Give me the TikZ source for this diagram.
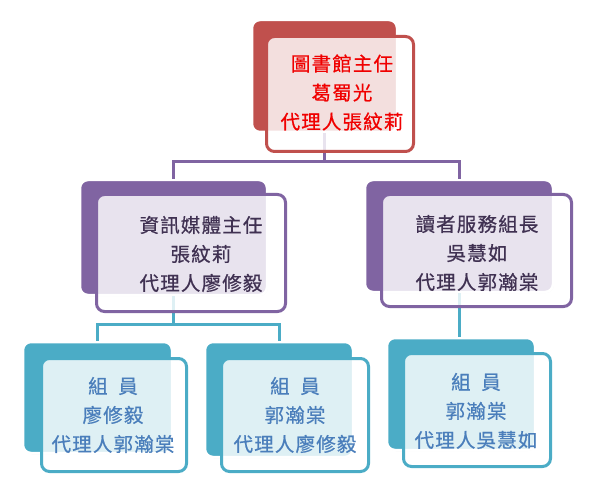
\documentclass[tikz,border=0pt]{standalone}
\usepackage{fontspec}
\setmainfont{Noto Sans CJK TC}
\usetikzlibrary{shadows}
\definecolor{redA}{HTML}{C0504D}
\definecolor{purA}{HTML}{8064A2}
\definecolor{tealA}{HTML}{4BACC6}
\definecolor{redT}{HTML}{F00000}
\definecolor{purT}{HTML}{403152}
\definecolor{bluT}{HTML}{4A7EBB}
\tikzset{
  backbox/.style={rounded corners=8pt, draw=white, line width=2.5pt,
    drop shadow={opacity=0.25, shadow xshift=0.8pt, shadow yshift=-1pt}},
  frontbox/.style={rounded corners=8pt, line width=3pt, fill=white, fill opacity=0.82, draw opacity=1},
  boxtext/.style={align=center, font=\fontsize{19.5}{29}\selectfont\addfontfeature{LetterSpace=6,FakeBold=0.6}},
  pline/.style={draw=purA, line width=3pt},
  tline/.style={draw=tealA, line width=3pt},
}
\newcommand{\zsp}{\hspace{0.55em}}
\begin{document}
\begin{tikzpicture}[x=1pt,y=-1pt]
\useasboundingbox (0,0) rectangle (609,502);
% junction coordinates
\coordinate (j0) at (324.5,162);
\coordinate (j1) at (173.5,324);
% back boxes
\path
  node[backbox, fill=redA, minimum width=145pt, minimum height=112pt, inner sep=0pt] (b0) at (324.5,76) {}
  node[backbox, fill=purA, minimum width=187pt, minimum height=115pt, inner sep=0pt] (b1) at (173.5,237.5) {}
  node[backbox, fill=purA, minimum width=188pt, minimum height=112pt, inner sep=0pt] (b2) at (459,236) {}
  node[backbox, fill=tealA, minimum width=149pt, minimum height=111pt, inner sep=0pt] (b3) at (97.5,397.5) {}
  node[backbox, fill=tealA, minimum width=148pt, minimum height=115pt, inner sep=0pt] (b4) at (279,399.5) {}
  node[backbox, fill=tealA, minimum width=148pt, minimum height=112pt, inner sep=0pt] (b5) at (461,394) {};
% connectors (behind the front boxes)
\draw[pline] (b0.south) -- (j0);
\draw[pline] (b1.north) |- (j0) -| (b2.north);
\draw[tline] (b1.south) -- (j1);
\draw[tline] (b3.north) |- (j1) -| (b4.north);
\draw[tline] (b2.south) -- (b2.south |- b5.north);
% front boxes
\node[frontbox, draw=redA, minimum width=147pt, minimum height=115pt, inner sep=0pt] (f0) at (340,94) {};
\node[frontbox, draw=purA, minimum width=189pt, minimum height=117pt, inner sep=0pt] (f1) at (191,253) {};
\node[frontbox, draw=purA, minimum width=190pt, minimum height=112pt, inner sep=0pt] (f2) at (476.5,250.5) {};
\node[frontbox, draw=tealA, minimum width=145pt, minimum height=113pt, inner sep=0pt] (f3) at (114,415) {};
\node[frontbox, draw=tealA, minimum width=147pt, minimum height=113pt, inner sep=0pt] (f4) at (295,415) {};
\node[frontbox, draw=tealA, minimum width=147pt, minimum height=113pt, inner sep=0pt] (f5) at (477,410) {};
% texts
\node[boxtext, text=redT] (t0) at (342,92.5) {圖書館主任\\葛蜀光\\代理人張紋莉};
\node[boxtext, text=purT] (t1) at (201,254) {資訊媒體主任\\張紋莉\\代理人廖修毅};
\node[boxtext, text=purT] (t2) at (477,253) {讀者服務組長\\吳慧如\\代理人郭瀚棠};
\node[boxtext, text=bluT] (t3) at (113,415) {組\zsp 員\\廖修毅\\代理人郭瀚棠};
\node[boxtext, text=bluT] (t4) at (295,415) {組\zsp 員\\郭瀚棠\\代理人廖修毅};
\node[boxtext, text=bluT] (t5) at (476,411) {組\zsp 員\\郭瀚棠\\代理人吳慧如};
\end{tikzpicture}
\end{document}
